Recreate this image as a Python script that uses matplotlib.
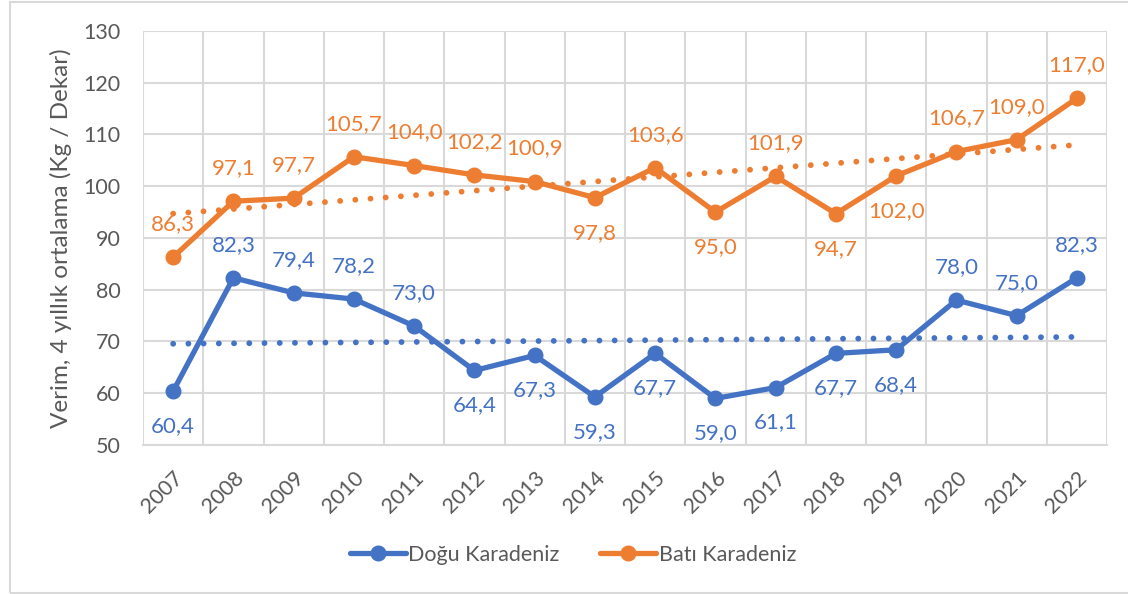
import numpy as np
import matplotlib.pyplot as plt
from matplotlib.patches import Rectangle

years = [str(y) for y in range(2007, 2023)]
dogu = [60.4, 82.3, 79.4, 78.2, 73.0, 64.4, 67.3, 59.3, 67.7, 59.0, 61.1, 67.7, 68.4, 78.0, 75.0, 82.3]
bati = [86.3, 97.1, 97.7, 105.7, 104.0, 102.2, 100.9, 97.8, 103.6, 95.0, 101.9, 94.7, 102.0, 106.7, 109.0, 117.0]

# label placement: 1 = above the point, -1 = below
dogu_pos = [-1, 1, 1, 1, 1, -1, -1, -1, -1, -1, -1, -1, -1, 1, 1, 1]
bati_pos = [1, 1, 1, 1, 1, 1, 1, -1, 1, -1, 1, -1, -1, 1, 1, 1]

blue = '#4472C4'
orange = '#ED7D31'
grey = '#595959'
gridc = '#D9D9D9'

plt.rcParams['font.family'] = ['Lato', 'DejaVu Sans']

fig = plt.figure(figsize=(11.28, 5.94), dpi=100)
fig.patches.append(Rectangle((10 / 1128, 1 / 594), 1, 591 / 594, transform=fig.transFigure,
                             fill=False, edgecolor=gridc, lw=1.5))
ax = fig.add_axes([143 / 1128, 1 - 445 / 594, (1107 - 143) / 1128, (445 - 31) / 594])

x = np.arange(len(years))


def draw(vals, pos, color, label):
    ax.plot(x, vals, color=color, lw=3.8, marker='o', ms=10.5, label=label, zorder=4,
            solid_capstyle='round', solid_joinstyle='round')
    k, b = np.polyfit(x, vals, 1)
    ax.plot(x, k * x + b, color=color, lw=4.2, linestyle=(0, (0.01, 2.6)),
            dash_capstyle='round', zorder=3)
    for i in range(len(vals)):
        off = 33 if pos[i] > 0 else -35
        ax.annotate(f"{vals[i]:.1f}".replace('.', ','), (x[i], vals[i]), xytext=(0, off),
                    textcoords='offset pixels', ha='center', va='center',
                    fontsize=16, color=color, zorder=5)


draw(dogu, dogu_pos, blue, 'Doğu Karadeniz')
draw(bati, bati_pos, orange, 'Batı Karadeniz')

ax.set_xlim(-0.5, len(years) - 0.5)
ax.set_ylim(50, 130)
ax.set_yticks(range(50, 131, 10))
ax.set_xticks(x)
ax.set_xticklabels(years, rotation=45, ha='right', rotation_mode='anchor')
ax.set_xticks(np.arange(len(years) + 1) - 0.5, minor=True)
ax.grid(True, which='major', axis='y', color=gridc, lw=1.5)
ax.grid(True, which='minor', axis='x', color=gridc, lw=1.5)
ax.set_axisbelow(True)
ax.tick_params(axis='both', which='both', length=0, labelsize=15.5, labelcolor=grey)
ax.tick_params(axis='y', pad=16)
ax.tick_params(axis='x', pad=16)
for s in ['top', 'right', 'left']:
    ax.spines[s].set_visible(False)
ax.spines['bottom'].set_color(gridc)
ax.spines['bottom'].set_linewidth(1.5)
ax.set_ylabel('Verim, 4 yıllık ortalama (Kg / Dekar)', fontsize=17.5, color=grey, labelpad=8)

fig.legend(loc='center', bbox_to_anchor=(0.508, 0.066), ncol=2, frameon=False,
           fontsize=15.5, labelcolor=grey, handlelength=2.6, handletextpad=0.1, columnspacing=1.9)

fig.savefig('out.png', dpi=100)
